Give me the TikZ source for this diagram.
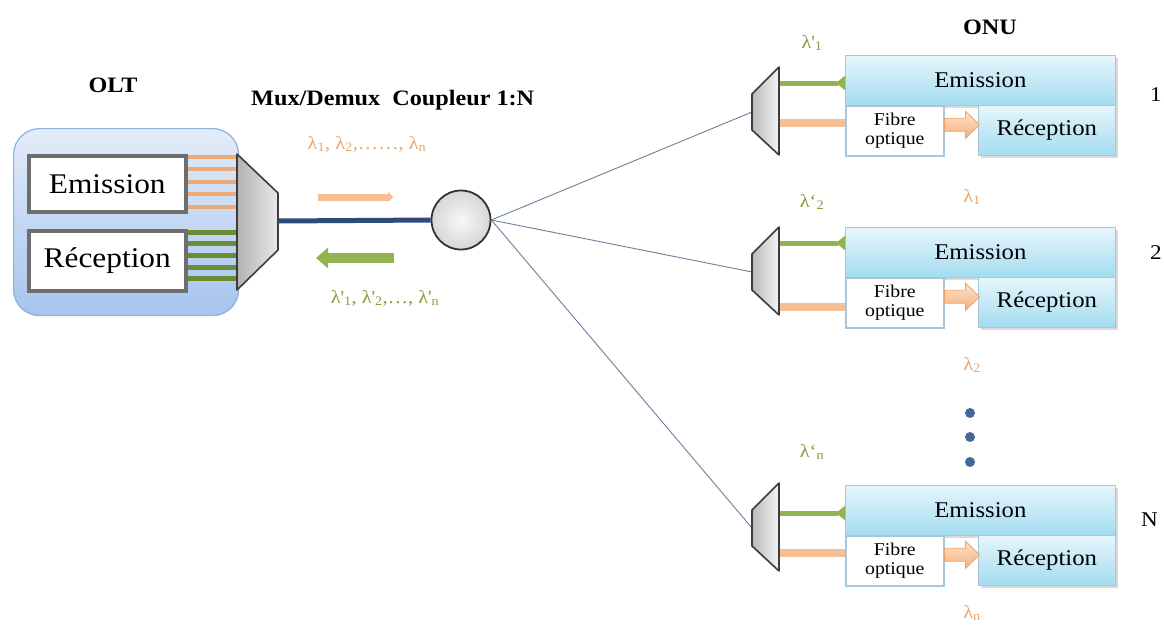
\documentclass[tikz,border=0pt]{standalone}
\usepackage{fontspec}
\setmainfont{Liberation Serif}[FakeStretch=1.1]
\usetikzlibrary{arrows.meta,shadows}

\definecolor{oltTop}{HTML}{E3ECF9}
\definecolor{oltBot}{HTML}{A7C4EE}
\definecolor{oltEdge}{HTML}{8FB0DA}
\definecolor{boxEdge}{HTML}{6E6E6E}
\definecolor{txOrange}{HTML}{F0A874}
\definecolor{rxGreen}{HTML}{6C8C34}
\definecolor{trunkBlue}{HTML}{2F4B7C}
\definecolor{arrOrange}{HTML}{F5BE96}
\definecolor{arrGreen}{HTML}{93B351}
\definecolor{lamOrange}{HTML}{E9A66C}
\definecolor{lamGreen}{HTML}{8A9A3C}
\definecolor{onuTop}{HTML}{E6F6FC}
\definecolor{onuBot}{HTML}{A3DCF0}
\definecolor{onuEdge}{HTML}{A9C6D8}
\definecolor{fanLine}{HTML}{6A819C}
\definecolor{dotBlue}{HTML}{44679A}
\definecolor{muxEdge}{HTML}{3C3C3C}
\definecolor{blkTop}{HTML}{FDE2CC}
\definecolor{blkBot}{HTML}{F5B07C}
\definecolor{blkEdge}{HTML}{F0A46C}

\newcommand{\fs}[1]{\fontsize{#1}{#1}\selectfont}

\tikzset{
  oltbox/.style={draw=oltEdge, line width=1.2pt, rounded corners=26pt,
    top color=oltTop, bottom color=oltBot, anchor=north west,
    minimum width=225pt, inner sep=0pt},
  innerbox/.style={draw=boxEdge, line width=3.5pt, fill=white, anchor=north west,
    minimum width=157pt, inner sep=0pt, font=\fs{28.5}},
  txline/.style={txOrange, line width=3.2pt},
  rxline/.style={rxGreen, line width=5pt},
  muxshape/.style={draw=muxEdge, line width=1.6pt, left color=gray!60, right color=gray!18, line join=round},
  onumux/.style={draw=muxEdge, line width=1.6pt, left color=gray!55, right color=gray!8, line join=round},
  trunk/.style={trunkBlue, line width=5pt},
  coupler/.style={circle, draw=black!80, line width=1.8pt, inner color=gray!6,
    outer color=gray!32, minimum size=59pt, inner sep=0pt},
  fan/.style={fanLine, line width=0.9pt},
  dnarrow/.style={arrOrange, line width=7pt, -{Triangle[length=5pt,width=10pt]}},
  uparrow/.style={arrGreen, line width=10pt, -{Triangle[length=12pt,width=20pt]}},
  onugreen/.style={arrGreen, line width=5pt, -{Triangle[reversed,length=9pt,width=14pt]}},
  onuorange/.style={arrOrange, line width=8pt},
  onubox/.style={draw=onuEdge, line width=0.8pt, top color=onuTop, bottom color=onuBot,
    anchor=north west, inner sep=0pt, minimum height=50pt, font=\fs{22.5}},
  fibrebox/.style={draw=onuEdge, line width=1.6pt, fill=white, anchor=north west,
    inner sep=0pt, minimum width=98pt, minimum height=50pt, align=center,
    font=\fs{18}},
  boxshadow/.style={fill=black, opacity=0.15},
  blockarrow/.style={draw=blkEdge, line width=0.8pt, top color=blkTop, bottom color=blkBot},
  title/.style={font=\fs{22}\bfseries, inner sep=0pt},
  lamO/.style={text=lamOrange, font=\fs{18.5}, inner sep=0pt},
  lamG/.style={text=lamGreen, font=\fs{18.5}, inner sep=0pt},
  idx/.style={font=\fs{21}, inner sep=0pt, anchor=west},
  dotmark/.style={circle, fill=dotBlue, minimum size=10pt, inner sep=0pt}
}

\begin{document}
\begin{tikzpicture}[x=1pt,y=-1pt]
\useasboundingbox (0,0) rectangle (1164,630);
\fill[white] (0,0) rectangle (1164,630);

% ---------- OLT ----------
\node[title] (oltlabel) at (113,85) {OLT};
\node[oltbox, minimum height=187pt] (olt) at (13,128) {};
\node[innerbox, minimum height=56pt] (oltE) at (27,154) {Emission};
\node[innerbox, minimum height=60pt] (oltR) at (27,229) {Réception};

% multiplexer of the OLT
\coordinate (mxA) at (237,154);
\coordinate (mxB) at (278,193);
\coordinate (mxC) at (278,250);
\coordinate (mxD) at (237,290);
\coordinate (mxOut) at (278,221);

\foreach \yy in {157,169,182,194,207}{
  \coordinate (tl) at (237,\yy);
  \draw[txline] (oltE.east |- tl) -- (tl);
}
\foreach \yy in {232,243,255,267,278}{
  \coordinate (rl) at (237,\yy);
  \draw[rxline] (oltR.east |- rl) -- (rl);
}
\draw[muxshape] (mxA) -- (mxB) -- (mxC) -- (mxD) -- cycle;

% ---------- trunk and coupler ----------
\node[coupler] (cpl) at (461,220) {};
\draw[trunk] (mxOut) -- (cpl.west);
\node[title, anchor=west] (muxlabel) at (251,100) {Mux/Demux\hspace{0.55em}Coupleur 1:N};

\coordinate (dnA) at (318,197);
\coordinate (dnB) at (393,197);
\draw[dnarrow] (dnA) -- (dnB);
\coordinate (upA) at (394,258);
\coordinate (upB) at (316,258);
\draw[uparrow] (upA) -- (upB);

\node[lamO] (dnlabel) at (367,144)
  {λ\textsubscript{1}, λ\textsubscript{2},\dots\dots, λ\textsubscript{n}};
\node[lamG] (uplabel) at (385,298)
  {λ\textquotesingle\textsubscript{1}, λ\textquotesingle\textsubscript{2},\dots,\ λ\textquotesingle\textsubscript{n}};

% ---------- ONUs ----------
\node[title] (onulabel) at (990,27) {ONU};

\foreach \k/\ya/\yb/\yg/\yo in {1/55/67/83/123, 2/227/227/243/307, N/485/483/513/553}{
  \pgfmathsetmacro{\yc}{\yb+88}
  \pgfmathsetmacro{\yd}{\yb+63}
  \pgfmathsetmacro{\ye}{\yb+27}
  \pgfmathsetmacro{\yf}{\yb+45}
  \pgfmathsetmacro{\yr}{\ya+50}
  % demultiplexer in front of the ONU
  \coordinate (ma\k) at (779,\yb);
  \coordinate (mb\k) at (779,\yc);
  \coordinate (mc\k) at (752,\yd);
  \coordinate (md\k) at (752,\ye);
  \coordinate (mi\k) at (752,\yf);
  \coordinate (gr\k) at (779,\yg);
  \coordinate (or\k) at (779,\yo);
  \draw[fan] (cpl.east) -- (mi\k);
  % boxes of the ONU
  \fill[boxshadow] (847.5,\ya+2.5) rectangle (1117.5,\ya+52.5);
  \fill[boxshadow] (980.5,\ya+52.5) rectangle (1117.5,\ya+102.5);
  \node[onubox, minimum width=270pt] (emi\k) at (845,\ya) {Emission};
  \node[onubox, minimum width=137pt] (rec\k) at (978,\yr) {Réception};
  \node[fibrebox] (fib\k) at (845,\yr) {Fibre\\[1pt]optique};
  % links between the demultiplexer and the boxes
  \draw[onuorange] (or\k) -- (fib\k.west |- or\k);
  \draw[onugreen] (gr\k) -- (emi\k.west |- gr\k);
  \draw[onumux] (ma\k) -- (mb\k) -- (mc\k) -- (md\k) -- cycle;
  % hollow arrow from the fibre to the receiver
  \coordinate (ba\k) at ([yshift=6pt]fib\k.east);
  \draw[blockarrow] ([yshift=6.5pt]ba\k) -- ++(21,0) -- ++(0,-7) -- ++(14,13.5)
    -- ++(-14,13.5) -- ++(0,-7) -- ++(-21,0) -- cycle;
}

% wavelength labels
\node[lamG] (lg1) at (812,43) {λ\textquotesingle\textsubscript{1}};
\node[lamG] (lg2) at (812,202) {λ`\textsubscript{2}};
\node[lamG] (lgN) at (812,452) {λ`\textsubscript{n}};
\node[lamO] (lo1) at (972,197) {λ\textsubscript{1}};
\node[lamO] (lo2) at (972,365) {λ\textsubscript{2}};
\node[lamO] (loN) at (972,613) {λ\textsubscript{n}};

% ONU indices
\node[idx] (i1) at (1150,95) {1};
\node[idx] (i2) at (1150,253) {2};
\node[idx] (iN) at (1141,520) {N};

% vertical ellipsis between ONU 2 and ONU N
\node[dotmark] (d1) at (970,413) {};
\node[dotmark] (d2) at (970,437) {};
\node[dotmark] (d3) at (970,462) {};
\end{tikzpicture}
\end{document}
